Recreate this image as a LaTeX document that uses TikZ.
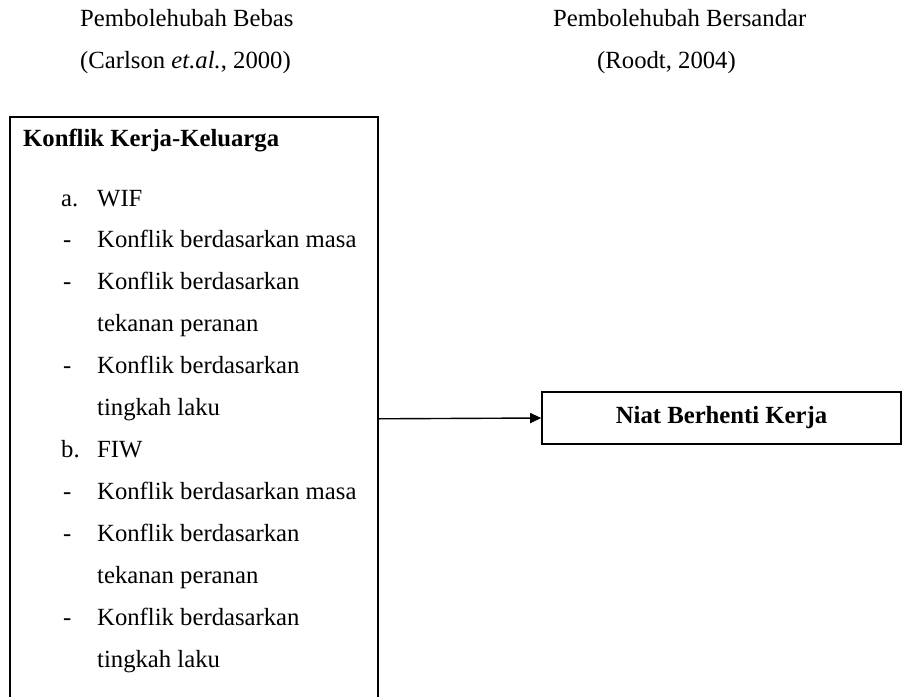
\documentclass[tikz,border=0pt]{standalone}
\usepackage{fontspec}
\setmainfont{Liberation Serif}
\usetikzlibrary{arrows.meta}
\begin{document}
\begin{tikzpicture}[x=1pt,y=-1pt,
  txt/.style={anchor=base west, inner sep=0pt, font=\fontsize{24.7}{30}\selectfont},
  btxt/.style={anchor=base west, inner sep=0pt, font=\fontsize{24.7}{30}\selectfont\bfseries},
  box/.style={draw, line width=1.6pt, inner sep=0pt},
  conn/.style={line width=1.4pt, -{Triangle[length=11pt,width=10pt]}}]
\clip (0,0) rectangle (902,696);
% headers
\node[txt] (h1) at (80,27) {Pembolehubah Bebas};
\node[txt] (h2) at (80,68) {(Carlson \textit{et.al.}, 2000)};
\node[txt] (h3) at (553,27) {Pembolehubah Bersandar};
\node[txt] (h4) at (597,68) {(Roodt, 2004)};
% left box
\node[box, minimum width=368pt, minimum height=604pt, anchor=north west] (kkk) at (9,116) {};
\node[btxt] (title) at (23,146) {Konflik Kerja-Keluarga};
\node[txt] (la) at (61,206) {a.};
\node[txt] (wif) at (97,206) {WIF};
\node[txt] (d1) at (63,247) {-};
\node[txt] (t1) at (97,247) {Konflik berdasarkan masa};
\node[txt] (d2) at (63,289) {-};
\node[txt] (t2) at (97,289) {Konflik berdasarkan};
\node[txt] (t3) at (97,331) {tekanan peranan};
\node[txt] (d3) at (63,373) {-};
\node[txt] (t4) at (97,373) {Konflik berdasarkan};
\node[txt] (t5) at (97,415) {tingkah laku};
\node[txt] (lb) at (61,457) {b.};
\node[txt] (fiw) at (97,457) {FIW};
\node[txt] (d4) at (63,499) {-};
\node[txt] (t6) at (97,499) {Konflik berdasarkan masa};
\node[txt] (d5) at (63,541) {-};
\node[txt] (t7) at (97,541) {Konflik berdasarkan};
\node[txt] (t8) at (97,583) {tekanan peranan};
\node[txt] (d6) at (63,625) {-};
\node[txt] (t9) at (97,625) {Konflik berdasarkan};
\node[txt] (t10) at (97,667) {tingkah laku};
% right box
\node[box, minimum width=359pt, minimum height=52pt, font=\fontsize{24.7}{30}\selectfont\bfseries] (niat) at (721.5,418) {Niat Berhenti Kerja};
% connector
\draw[conn] (kkk.east) -- (niat.west);
\end{tikzpicture}
\end{document}
